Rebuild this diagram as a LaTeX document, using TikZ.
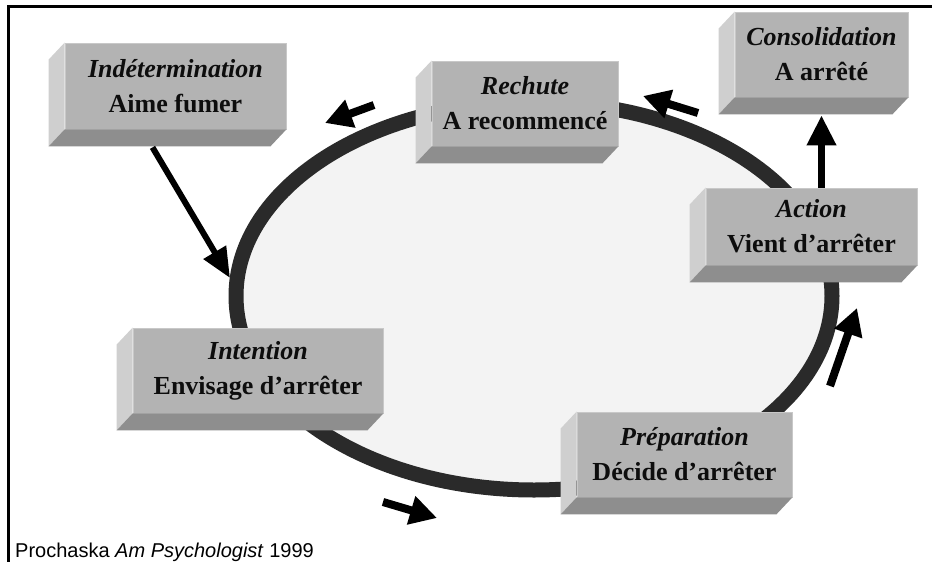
\documentclass[tikz,border=0pt]{standalone}
\usepackage{fontspec}
\setmainfont{Liberation Serif}
\setsansfont{Liberation Sans}
\usetikzlibrary{arrows.meta}

\definecolor{facefront}{HTML}{B3B3B3}
\definecolor{faceleft}{HTML}{CFCFCF}
\definecolor{facebottom}{HTML}{8E8E8E}
\definecolor{faceedge}{HTML}{C8C8C8}
\definecolor{ringline}{HTML}{2A2A2A}
\definecolor{ringfill}{HTML}{F3F3F3}

\begin{document}
\begin{tikzpicture}[x=1pt,y=-1pt,
        stage/.style={fill=facefront, draw=faceedge, line width=0.8pt, inner sep=0pt,
            align=center, text=black!95, font=\fontsize{26}{35}\selectfont\bfseries},
        flow/.style={-{Triangle[length=30pt,width=25pt]}, line width=6pt},
        turn/.style={-{Triangle[length=27pt,width=28pt]}, line width=8pt},
        exit/.style={-{Triangle[length=30pt,width=28pt]}, line width=7pt}]
    \useasboundingbox (0,0) rectangle (932,562);

    % frame
    \draw[line width=3pt] (8.5,562) -- (8.5,6.5) -- (932,6.5);

    % cycle
    \draw[ringline, fill=ringfill, line width=15pt] (534,296) ellipse [x radius=298, y radius=194];

    % stages
    \node[stage, minimum width=221, minimum height=86] (ind) at (175.5,86) {\textit{Indétermination}\\Aime fumer};
    \node[stage, minimum width=186, minimum height=85] (rech) at (525,103.5) {\textit{Rechute}\\A recommencé};
    \node[stage, minimum width=173, minimum height=85] (cons) at (821.5,54.5) {\textit{Consolidation}\\A arrêté};
    \node[stage, minimum width=211, minimum height=77] (act) at (811.5,226.5) {\textit{Action}\\Vient d’arrêter};
    \node[stage, minimum width=250, minimum height=85] (int) at (258,370.5) {\textit{Intention}\\Envisage d’arrêter};
    \node[stage, minimum width=215, minimum height=85] (prep) at (684.5,454.5) {\textit{Préparation}\\Décide d’arrêter};

    \foreach \n in {ind,rech,cons,act,int,prep} {
        \fill[faceleft] (\n.north west) -- (\n.south west) -- ([shift={(-16,17)}]\n.south west)
            -- ([shift={(-16,17)}]\n.north west) -- cycle;
        \fill[facebottom] (\n.south west) -- (\n.south east) -- ([shift={(-16,17)}]\n.south east)
            -- ([shift={(-16,17)}]\n.south west) -- cycle;
    }

    % arrow ends on and beside the cycle
    \coordinate (ringw) at (230,278);
    \coordinate (sbl) at (383,502);
    \coordinate (tbl) at (437,518);
    \coordinate (sr) at (830,386);
    \coordinate (tr) at (857,308);
    \coordinate (str) at (698,113);
    \coordinate (ttr) at (643,96);
    \coordinate (stl) at (374,105);
    \coordinate (ttl) at (325,123);

    \draw[flow] ([shift={(-23,18)}]ind.south) -- (ringw);
    \draw[exit] (act.north -| cons.south) -- ([shift={(0,18)}]cons.south);
    \draw[turn] (sbl) -- (tbl);
    \draw[turn] (sr) -- (tr);
    \draw[turn] (str) -- (ttr);
    \draw[turn] (stl) -- (ttl);

    % source
    \node[anchor=base west, inner sep=0pt, font=\sffamily\fontsize{20}{22}\selectfont] (src) at (15,557)
        {Prochaska \textit{Am Psychologist} 1999};
\end{tikzpicture}
\end{document}
